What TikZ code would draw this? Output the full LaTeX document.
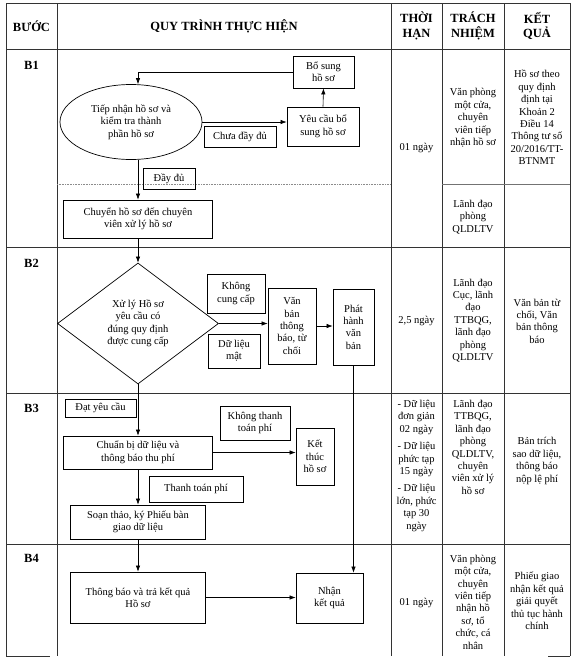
\documentclass[tikz,border=0pt]{standalone}
\usepackage{fontspec}
\setmainfont{Liberation Serif}
\usetikzlibrary{shapes.geometric,arrows.meta}

\begin{document}
\begin{tikzpicture}[x=1pt,y=-1pt,
  >={Latex[length=6pt,width=4.4pt]},
  font=\fontsize{10.5}{12.4}\selectfont,
  box/.style={draw, line width=0.7pt, align=center, inner sep=1pt},
  cell/.style={align=center, inner sep=0pt},
  head/.style={align=center, inner sep=0pt, font=\fontsize{12.5}{14.5}\selectfont\bfseries},
  grid/.style={line width=0.9pt, black!80},
  flow/.style={->, line width=0.6pt, black}]
\useasboundingbox (0,0) rectangle (575,662);

\draw[grid] (6,3) -- (570,3);
\draw[grid] (6,49) -- (570,49);
\draw[grid] (6,247) -- (570,247);
\draw[grid] (6,393) -- (570,393);
\draw[grid] (6,544) -- (570,544);
\draw[grid] (6,656) -- (50,656);
\draw[grid] (548,656) -- (570,656);
\draw[grid] (6,3) -- (6,656);
\draw[grid] (57,3) -- (57,656);
\draw[grid] (391,3) -- (391,656);
\draw[grid] (442,3) -- (442,656);
\draw[grid] (504,3) -- (504,656);
\draw[grid] (570,3) -- (570,656);
\draw[black!45, line width=0.6pt, densely dotted] (57,184) -- (391,184);
\draw[black!55, line width=0.6pt] (442,184) -- (570,184);

\node[head] (hbuoc) at (31.5,26) {BƯỚC};
\node[head] (hquytrinh) at (224,26) {QUY TRÌNH THỰC HIỆN};
\node[head] (hthoihan) at (416.5,26) {THỜI\\HẠN};
\node[head] (htrachnhiem) at (473,26) {TRÁCH\\NHIỆM};
\node[head] (hketqua) at (537,26) {KẾT\\QUẢ};

\node[head] (b1) at (31.5,65) {B1};
\node[head] (b2) at (31.5,263) {B2};
\node[head] (b3) at (31.5,408) {B3};
\node[head] (b4) at (31.5,558) {B4};

\node[box, ellipse, inner sep=0pt, minimum width=142pt, minimum height=75pt] (tiepnhan) at (131,122) {Tiếp nhận hồ sơ và\\kiểm tra thành\\phần hồ sơ};
\node[box, minimum width=61pt, minimum height=32pt] (bosung) at (323.5,72) {Bổ sung\\hồ sơ};
\node[box, minimum width=72pt, minimum height=39pt] (yeucau) at (323,126.5) {Yêu cầu bổ\\sung hồ sơ};
\node[box, minimum width=72pt, minimum height=21pt] (chuadaydu) at (240,136.5) {Chưa đầy đủ};
\node[box, minimum width=52pt, minimum height=21pt] (daydu) at (169,178.5) {Đầy đủ};
\node[box, minimum width=149pt, minimum height=38pt] (chuyen) at (138,219) {Chuyển hồ sơ đến chuyên\\viên xử lý hồ sơ};

\node[box, diamond, inner sep=0pt, minimum width=161pt, minimum height=121pt] (xuly) at (138,323.5) {Xử lý Hồ sơ\\yêu cầu có\\đúng quy định\\được cung cấp};
\node[box, minimum width=58pt, minimum height=39pt] (khongcungcap) at (236,293.5) {Không\\cung cấp};
\node[box, minimum width=52pt, minimum height=34pt] (dulieumat) at (234,351) {Dữ liệu\\mật};
\node[box, minimum width=48pt, minimum height=76pt] (vanban) at (292,326) {Văn\\bản\\thông\\báo, từ\\chối};
\node[box, minimum width=41pt, minimum height=76pt] (phathanh) at (353.5,327) {Phát\\hành\\văn\\bản};

\node[box, minimum width=71pt, minimum height=18pt] (datyeucau) at (100.5,408) {Đạt yêu cầu};
\node[box, minimum width=149pt, minimum height=33pt] (chuanbi) at (138,452.5) {Chuẩn bị dữ liệu và\\thông báo thu phí};
\node[box, minimum width=70pt, minimum height=34pt] (khongthanhtoan) at (255,423) {Không thanh\\toán phí};
\node[box, minimum width=38pt, minimum height=57pt] (ketthuc) at (315,456.5) {Kết\\thúc\\hồ sơ};
\node[box, minimum width=94pt, minimum height=26pt] (thanhtoan) at (196,489) {Thanh toán phí};
\node[box, minimum width=135pt, minimum height=34pt] (soanthao) at (138,522) {Soạn thảo, ký Phiếu bàn\\giao dữ liệu};

\node[box, minimum width=135pt, minimum height=51pt] (thongbao) at (138,597.5) {Thông báo và trả kết quả\\Hồ sơ};
\node[box, minimum width=67pt, minimum height=50pt] (nhankq) at (329.5,598) {Nhận\\kết quả};

\draw[flow] (bosung.west) -| (tiepnhan.north -| chuyen.north);
\draw[flow] (tiepnhan.east) -- (tiepnhan.east -| yeucau.west);
\draw[flow] (yeucau.north) -- (bosung.south);
\draw[flow] (tiepnhan.south -| chuyen.north) -- (chuyen.north);
\draw[flow] (chuyen.south) -- (xuly.north);
\draw[flow] (xuly.east) -- (xuly.east -| vanban.west);
\draw[flow] (vanban.east) -- (vanban.east -| phathanh.west);
\draw[flow] (phathanh.south) -- (phathanh.south |- nhankq.north);
\draw[flow] (xuly.south) -- (chuanbi.north);
\draw[flow] (chuanbi.east) -- (chuanbi.east -| ketthuc.west);
\draw[flow] (chuanbi.south) -- (soanthao.north);
\draw[flow] (soanthao.south) -- (thongbao.north);
\draw[flow] (thongbao.east) -- (thongbao.east -| nhankq.west);

\node[cell] (thoihan1) at (416.5,148) {01 ngày};
\node[cell] (thoihan2) at (416.5,321) {2,5 ngày};
\node[cell, anchor=north] (thoihan3) at (416.5,400) {- Dữ liệu\\đơn giản\\02 ngày\\[5pt]- Dữ liệu\\phức tạp\\15 ngày\\[5pt]- Dữ liệu\\lớn, phức\\tạp 30\\ngày};
\node[cell] (thoihan4) at (416.5,603) {01 ngày};

\node[cell] (trachnhiem1) at (473,118) {Văn phòng\\một cửa,\\chuyên\\viên tiếp\\nhận hồ sơ};
\node[cell] (trachnhiem1b) at (473,217) {Lãnh đạo\\phòng\\QLDLTV};
\node[cell] (trachnhiem2) at (473,320.5) {Lãnh đạo\\Cục, lãnh\\đạo\\TTBQG,\\lãnh đạo\\phòng\\QLDLTV};
\node[cell, anchor=north] (trachnhiem3) at (473,400) {Lãnh đạo\\TTBQG,\\lãnh đạo\\phòng\\QLDLTV,\\chuyên\\viên xử lý\\hồ sơ};
\node[cell] (trachnhiem4) at (473,602) {Văn phòng\\một cửa,\\chuyên\\viên tiếp\\nhận hồ\\sơ, tổ\\chức, cá\\nhân};

\node[cell] (ketqua1) at (537,117.5) {Hồ sơ theo\\quy định\\định tại\\Khoản 2\\Điều 14\\Thông tư số\\20/2016/TT-\\BTNMT};
\node[cell] (ketqua2) at (537,321) {Văn bản từ\\chối, Văn\\bản thông\\báo};
\node[cell] (ketqua3) at (537,461) {Bản trích\\sao dữ liệu,\\thông báo\\nộp lệ phí};
\node[cell] (ketqua4) at (537,601) {Phiếu giao\\nhận kết quả\\giải quyết\\thủ tục hành\\chính};
\end{tikzpicture}
\end{document}
